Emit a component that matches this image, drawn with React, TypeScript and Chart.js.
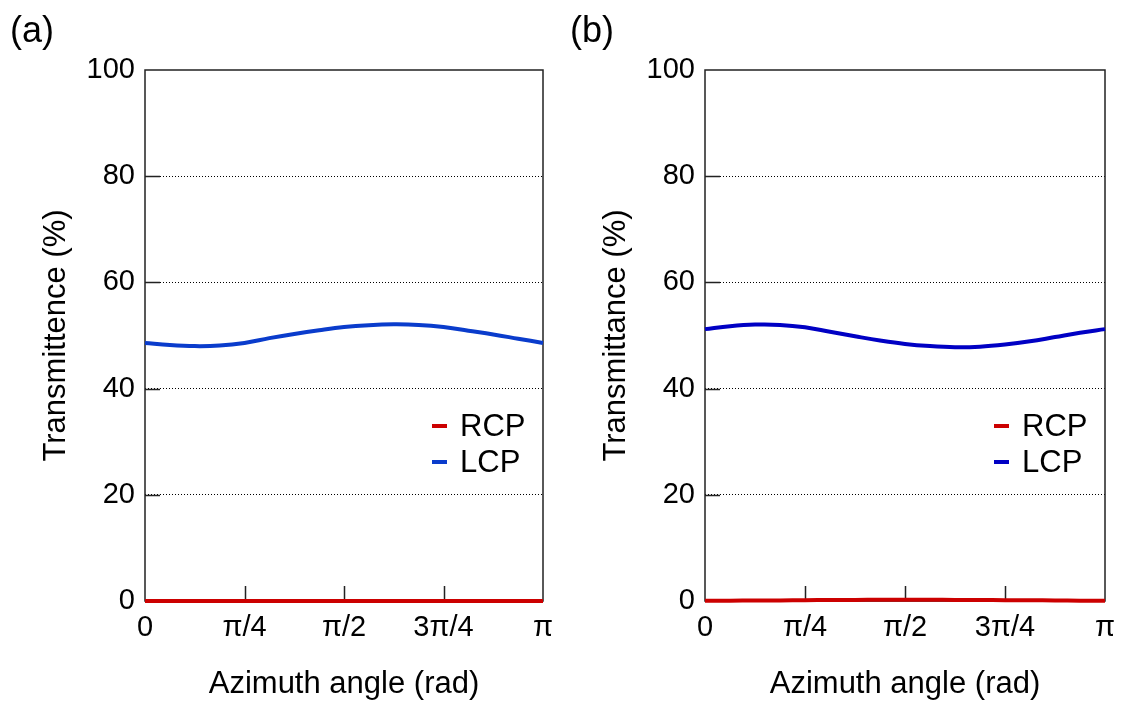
import React, { useEffect, useRef } from "react";
import { Chart, registerables } from "chart.js";

Chart.register(...registerables);

// Azimuth angle samples (rad), k·π/16
const AZIMUTH = [0, 0.1963, 0.3927, 0.589, 0.7854, 0.9817, 1.1781, 1.3744, 1.5708, 1.7671, 1.9635, 2.1598, 2.3562, 2.5525, 2.7489, 2.9452, 3.1416];
const X_TICK_VALUES = [0, 0.7854, 1.5708, 2.3562, 3.1416];
const X_TICK_LABELS = ["0", "π/4", "π/2", "3π/4", "π"];
const Y_TICK_STEP = 20;
const SERIES_LABELS = ["RCP", "LCP"];

// Panel (a)
const A_RCP = [0, 0, 0, 0, 0, 0, 0, 0, 0, 0, 0, 0, 0, 0, 0, 0, 0];
const A_LCP = [48.6, 48.2, 48.0, 48.1, 48.6, 49.5, 50.3, 51.0, 51.6, 51.95, 52.1, 52.0, 51.6, 50.9, 50.2, 49.4, 48.6];
// Panel (b)
const B_RCP = [0.05, 0.05, 0.1, 0.1, 0.15, 0.2, 0.2, 0.25, 0.25, 0.25, 0.2, 0.2, 0.15, 0.15, 0.1, 0.05, 0.05];
const B_LCP = [51.2, 51.75, 52.05, 52.0, 51.55, 50.7, 49.85, 49.05, 48.4, 48.0, 47.8, 47.9, 48.3, 48.9, 49.7, 50.5, 51.2];

const FONT = "'Liberation Sans', Arial, Helvetica, sans-serif";

const framePlugin = {
  id: "frameTicks",
  beforeDatasetsDraw(chart: any) {
    const { ctx, chartArea: a, scales } = chart;
    ctx.save();
    ctx.strokeStyle = "#222";
    ctx.lineWidth = 1.5;
    ctx.strokeRect(a.left, a.top, a.right - a.left, a.bottom - a.top);
    ctx.beginPath();
    for (const t of scales.x.ticks) {
      if (t.value <= 0 || t.value >= scales.x.max) continue;
      const x = Math.round(scales.x.getPixelForValue(t.value)) + 0.5;
      ctx.moveTo(x, a.bottom);
      ctx.lineTo(x, a.bottom - 15);
    }
    for (const t of scales.y.ticks) {
      if (t.value <= scales.y.min || t.value >= scales.y.max) continue;
      const y = Math.round(scales.y.getPixelForValue(t.value)) + 0.5;
      ctx.moveTo(a.left, y);
      ctx.lineTo(a.left + 15, y);
    }
    ctx.stroke();
    ctx.restore();
  },
};

const legendPlugin = {
  id: "innerLegend",
  afterDatasetsDraw(chart: any) {
    const { ctx, chartArea: a } = chart;
    const order = [1, 0];
    ctx.save();
    ctx.font = `31px ${FONT}`;
    ctx.textBaseline = "middle";
    ctx.textAlign = "left";
    order.forEach((di, row) => {
      const ds = chart.data.datasets[di];
      const y = a.bottom - 175 + row * 36;
      ctx.strokeStyle = ds.borderColor;
      ctx.lineWidth = 4;
      ctx.beginPath();
      ctx.moveTo(a.right - 111, y);
      ctx.lineTo(a.right - 96, y);
      ctx.stroke();
      ctx.fillStyle = "#000";
      ctx.fillText(ds.label, a.right - 83, y + 1);
    });
    ctx.restore();
  },
};

function makeConfig(rcp: number[], lcp: number[], lcpColor: string, yTitle: string, padRight: number): any {
  const toPts = (arr: number[]) => AZIMUTH.map((x, i) => ({ x, y: arr[i] }));
  return {
    type: "line",
    data: {
      datasets: [
        { label: SERIES_LABELS[1], data: toPts(lcp), borderColor: lcpColor, borderWidth: 4, pointRadius: 0, tension: 0.4, clip: false },
        { label: SERIES_LABELS[0], data: toPts(rcp), borderColor: "#cc0000", borderWidth: 4, pointRadius: 0, tension: 0.4, clip: false },
      ],
    },
    options: {
      responsive: false,
      animation: false,
      devicePixelRatio: 1,
      layout: { padding: { top: 70, right: padRight, bottom: 0, left: 0 } },
      plugins: { legend: { display: false }, tooltip: { enabled: false }, title: { display: false } },
      scales: {
        x: {
          type: "linear",
          min: 0,
          max: 3.1416,
          afterBuildTicks: (s: any) => {
            s.ticks = X_TICK_VALUES.map((v) => ({ value: v }));
          },
          afterFit: (s: any) => {
            s.height = 103;
            s.paddingRight = 0;
            s.paddingLeft = 0;
          },
          ticks: {
            autoSkip: false,
            maxRotation: 0,
            padding: 10,
            color: "#000",
            font: { family: FONT, size: 29 },
            callback: (_v: any, i: number) => X_TICK_LABELS[i],
          },
          grid: { display: false, drawTicks: false },
          border: { display: false },
          title: {
            display: true,
            text: "Azimuth angle (rad)",
            color: "#000",
            font: { family: FONT, size: 31 },
            padding: { top: 0, bottom: 1 },
          },
        },
        y: {
          min: 0,
          max: 100,
          afterFit: (s: any) => {
            s.width = 145;
          },
          ticks: {
            stepSize: Y_TICK_STEP,
            padding: 10,
            color: "#000",
            font: { family: FONT, size: 29 },
          },
          grid: {
            drawTicks: false,
            lineWidth: 1,
            color: (c: any) => (c.tick && c.tick.value > 0 && c.tick.value < 100 ? "#000" : "rgba(0,0,0,0)"),
          },
          border: { display: false, dash: [1, 2] },
          title: {
            display: true,
            text: yTitle,
            color: "#000",
            font: { family: FONT, size: 31 },
            padding: { top: 38, bottom: 0 },
          },
        },
      },
    },
    plugins: [framePlugin, legendPlugin],
  };
}

function Panel({ label, left, width, config }: { label: string; left: number; width: number; config: any }) {
  const ref = useRef<HTMLCanvasElement>(null);
  useEffect(() => {
    if (!ref.current) return;
    const chart = new Chart(ref.current, config);
    return () => chart.destroy();
  }, []);
  return (
    <div style={{ position: "absolute", left, top: 0, width, height: 704 }}>
      <canvas ref={ref} width={width} height={704} style={{ display: "block", width, height: 704 }} />
      <div
        style={{
          position: "absolute",
          left: 10,
          top: 12,
          fontFamily: FONT,
          fontSize: 36,
          lineHeight: "36px",
          color: "#000",
        }}
      >
        {label}
      </div>
    </div>
  );
}

export default function App() {
  return (
    <div style={{ position: "fixed", left: 0, top: 0, width: 1121, height: 704, background: "#fff", overflow: "hidden" }}>
      <Panel label="(a)" left={0} width={560} config={makeConfig(A_RCP, A_LCP, "#0a3ccc", "Transmittence (%)", 17)} />
      <Panel label="(b)" left={560} width={561} config={makeConfig(B_RCP, B_LCP, "#0000c4", "Transmittance (%)", 16)} />
    </div>
  );
}
